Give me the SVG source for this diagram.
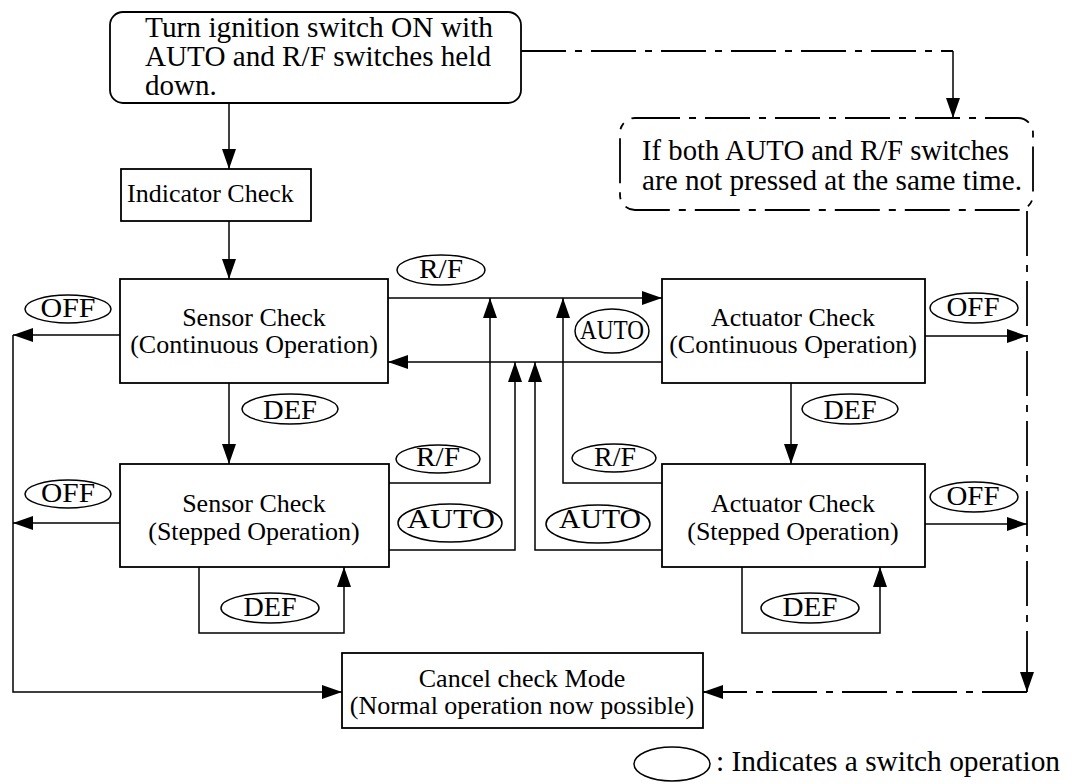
<svg xmlns="http://www.w3.org/2000/svg" width="1072" height="784" viewBox="0 0 1072 784">
<defs>
<marker id="arr" markerUnits="userSpaceOnUse" markerWidth="20" markerHeight="14" refX="20" refY="7" orient="auto">
<path d="M0,0 L20,7 L0,14 z" fill="#000"/>
</marker>
<style>
.box{fill:#fff;stroke:#000;stroke-width:1.8}
.dbox{fill:#fff;stroke:#000;stroke-width:1.8;stroke-dasharray:45 9 7 9}
.ln{fill:none;stroke:#000;stroke-width:1.5}
.dd{fill:none;stroke:#000;stroke-width:1.8;stroke-dasharray:45 9 7 9}
.ov{fill:#fff;stroke:#000;stroke-width:1.5}
text{font-family:"Liberation Serif","Times New Roman",serif;fill:#000}
.t26{font-size:26px}
.t29{font-size:29px}
.lb{font-size:27px;text-anchor:middle}
.c{text-anchor:middle}
</style>
</defs>
<rect width="1072" height="784" fill="#fff"/>

<g id="connectors">
<path class="ln" d="M229,103 V169" marker-end="url(#arr)"/>
<path class="ln" d="M229,221 V279" marker-end="url(#arr)"/>
<path class="dd" d="M521,51 H953"/>
<path class="ln" d="M953,51 V118" marker-end="url(#arr)"/>
<path class="ln" d="M388,298 H662" marker-end="url(#arr)"/>
<path class="ln" d="M662,362 H388" marker-end="url(#arr)"/>
<path class="ln" d="M389,483 H490 V298" marker-end="url(#arr)"/>
<path class="ln" d="M389,550 H515 V362" marker-end="url(#arr)"/>
<path class="ln" d="M662,483 H563 V298" marker-end="url(#arr)"/>
<path class="ln" d="M662,550 H535 V362" marker-end="url(#arr)"/>
<path class="ln" d="M229,383 V464" marker-end="url(#arr)"/>
<path class="ln" d="M791,383 V464" marker-end="url(#arr)"/>
<path class="ln" d="M199,567 V633 H344 V567" marker-end="url(#arr)"/>
<path class="ln" d="M742,567 V633 H880 V567" marker-end="url(#arr)"/>
<path class="ln" d="M120,335 H13" marker-end="url(#arr)"/>
<path class="ln" d="M120,523 H13" marker-end="url(#arr)"/>
<path class="ln" d="M13,335 V692 H342" marker-end="url(#arr)"/>
<path class="ln" d="M925,336 H1027" marker-end="url(#arr)"/>
<path class="ln" d="M925,524 H1027" marker-end="url(#arr)"/>
<path class="dd" d="M1027,211 V692" marker-end="url(#arr)"/>
<path class="dd" d="M1027,692 H703" marker-end="url(#arr)"/>
</g>

<g id="start">
<rect class="box" x="110" y="12" width="411" height="91" rx="13"/>
<text class="t29" x="145" y="37" textLength="348" lengthAdjust="spacingAndGlyphs">Turn ignition switch ON with</text>
<text class="t29" x="145" y="66" textLength="346" lengthAdjust="spacingAndGlyphs">AUTO and R/F switches held</text>
<text class="t29" x="145" y="95">down.</text>
</g>

<g id="notpressed">
<rect class="dbox" x="620" y="118" width="413" height="92" rx="15"/>
<text class="t29" x="642" y="160" textLength="367" lengthAdjust="spacingAndGlyphs">If both AUTO and R/F switches</text>
<text class="t29" x="642" y="190" textLength="380" lengthAdjust="spacingAndGlyphs">are not pressed at the same time.</text>
</g>

<g id="indicator">
<rect class="box" x="121" y="169" width="190" height="52"/>
<text class="t26" x="127" y="202">Indicator Check</text>
</g>

<g id="sensor-cont">
<rect class="box" x="120" y="279" width="268" height="104"/>
<text class="t26 c" x="254" y="326">Sensor Check</text>
<text class="t26 c" x="254" y="353">(Continuous Operation)</text>
</g>

<g id="actuator-cont">
<rect class="box" x="662" y="279" width="263" height="104"/>
<text class="t26 c" x="793" y="326">Actuator Check</text>
<text class="t26 c" x="793" y="353">(Continuous Operation)</text>
</g>

<g id="sensor-step">
<rect class="box" x="120" y="464" width="269" height="103"/>
<text class="t26 c" x="254" y="512">Sensor Check</text>
<text class="t26 c" x="254" y="540">(Stepped Operation)</text>
</g>

<g id="actuator-step">
<rect class="box" x="662" y="464" width="263" height="103"/>
<text class="t26 c" x="793" y="512">Actuator Check</text>
<text class="t26 c" x="793" y="540">(Stepped Operation)</text>
</g>

<g id="cancel">
<rect class="box" x="342" y="653" width="361" height="75"/>
<text class="t26 c" x="522" y="687">Cancel check Mode</text>
<text class="t26 c" x="522" y="714">(Normal operation now possible)</text>
</g>

<g id="sw-off-1"><ellipse class="ov" cx="68" cy="309" rx="43" ry="14"/><text class="lb" x="68" y="317" textLength="55" lengthAdjust="spacingAndGlyphs">OFF</text></g>
<g id="sw-rf-top"><ellipse class="ov" cx="441" cy="270" rx="44" ry="15"/><text class="lb" x="441" y="278" textLength="44" lengthAdjust="spacingAndGlyphs">R/F</text></g>
<g id="sw-auto-top"><ellipse class="ov" cx="612" cy="331" rx="37" ry="22"/><text class="lb" x="612" y="339" textLength="64" lengthAdjust="spacingAndGlyphs">AUTO</text></g>
<g id="sw-off-2"><ellipse class="ov" cx="974" cy="308" rx="44" ry="15"/><text class="lb" x="973" y="316" textLength="53" lengthAdjust="spacingAndGlyphs">OFF</text></g>
<g id="sw-def-1"><ellipse class="ov" cx="290" cy="409" rx="48" ry="15"/><text class="lb" x="290" y="419" textLength="54" lengthAdjust="spacingAndGlyphs">DEF</text></g>
<g id="sw-def-2"><ellipse class="ov" cx="850" cy="409" rx="48" ry="15"/><text class="lb" x="850" y="419" textLength="53" lengthAdjust="spacingAndGlyphs">DEF</text></g>
<g id="sw-off-3"><ellipse class="ov" cx="68" cy="494" rx="43" ry="14"/><text class="lb" x="68" y="502" textLength="54" lengthAdjust="spacingAndGlyphs">OFF</text></g>
<g id="sw-rf-2"><ellipse class="ov" cx="438" cy="459" rx="42" ry="14"/><text class="lb" x="438" y="466" textLength="44" lengthAdjust="spacingAndGlyphs">R/F</text></g>
<g id="sw-auto-2"><ellipse class="ov" cx="450" cy="523" rx="52" ry="19"/><text class="lb" x="451" y="528" textLength="88" lengthAdjust="spacingAndGlyphs">AUTO</text></g>
<g id="sw-rf-3"><ellipse class="ov" cx="614" cy="458" rx="42" ry="14"/><text class="lb" x="615" y="466" textLength="42" lengthAdjust="spacingAndGlyphs">R/F</text></g>
<g id="sw-auto-3"><ellipse class="ov" cx="598" cy="524" rx="52" ry="19"/><text class="lb" x="600" y="528" textLength="82" lengthAdjust="spacingAndGlyphs">AUTO</text></g>
<g id="sw-off-4"><ellipse class="ov" cx="974" cy="497" rx="44" ry="15"/><text class="lb" x="973" y="505" textLength="53" lengthAdjust="spacingAndGlyphs">OFF</text></g>
<g id="sw-def-3"><ellipse class="ov" cx="270" cy="608" rx="49" ry="15"/><text class="lb" x="270" y="616" textLength="53" lengthAdjust="spacingAndGlyphs">DEF</text></g>
<g id="sw-def-4"><ellipse class="ov" cx="810" cy="608" rx="49" ry="15"/><text class="lb" x="810" y="616" textLength="55" lengthAdjust="spacingAndGlyphs">DEF</text></g>

<g id="legend">
<ellipse class="ov" cx="672" cy="764" rx="38" ry="17"/>
<text x="716" y="771" font-size="29" textLength="344" lengthAdjust="spacingAndGlyphs">: Indicates a switch operation</text>
</g>
</svg>
